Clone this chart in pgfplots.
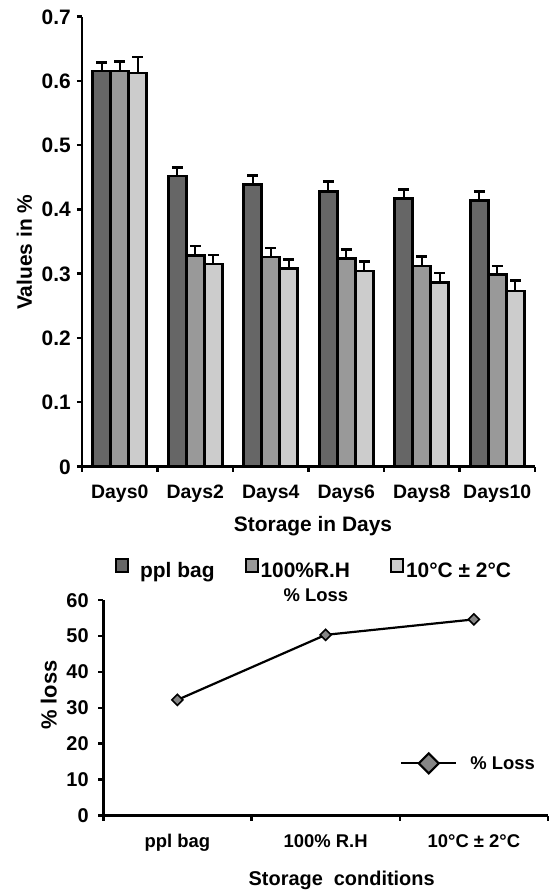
\documentclass[border=0pt]{standalone}
\usepackage{fontspec}
\setmainfont{Liberation Sans}
\usepackage{pgfplots}
\pgfplotsset{compat=1.18}
\usepackage{pgfplotstable}

\definecolor{cdark}{HTML}{666666}
\definecolor{cmid}{HTML}{999999}
\definecolor{clight}{HTML}{CCCCCC}
\definecolor{cdiam}{HTML}{858585}

\pgfplotstableread{
x a ea b eb c ec
0 0.615 0.013 0.615 0.015 0.612 0.025
1 0.452 0.013 0.328 0.015 0.315 0.014
2 0.439 0.014 0.326 0.014 0.308 0.014
3 0.428 0.015 0.324 0.014 0.304 0.0145
4 0.417 0.014 0.312 0.015 0.286 0.015
5 0.414 0.014 0.299 0.013 0.273 0.016
}\bars

\pgfplotstableread{
x y
1 32.2
2 50.3
3 54.6
}\loss

\newcommand{\fs}[1]{\bfseries\fontsize{#1}{#1}\selectfont}

\begin{document}
\begin{tikzpicture}
\useasboundingbox (0,0) rectangle (550bp,-892bp);
\begin{axis}[
  at={(82bp,-466.5bp)}, anchor=south west,
  scale only axis, width=453bp, height=450bp,
  xmin=-0.5, xmax=5.5, ymin=0, ymax=0.7,
  enlargelimits=false,
  axis x line=bottom, axis y line=left,
  axis line style={-, line width=2.4bp, black},
  tick align=outside, major tick length=5bp,
  tick style={line width=2.4bp, black},
  xtick={-0.5,0.5,1.5,2.5,3.5,4.5,5.5},
  xticklabels={Days0,Days2,Days4,Days6,Days8,Days10,{}},
  xticklabel style={font=\fs{19.5}, anchor=base, yshift=-26.5bp, xshift=37.75bp},
  ytick={0,0.1,0.2,0.3,0.4,0.5,0.6,0.7},
  yticklabel style={font=\fs{21}, anchor=base east, inner sep=0pt, xshift=-6bp, yshift=-7.5bp},
  /pgf/number format/assume math mode=true,
  ybar=0pt, bar width=18bp,
  legend image code/.code={\draw[#1, line width=2bp] (0bp,-1.5bp) rectangle (12bp,12bp);},
  legend columns=3,
  legend style={at={(0.0728,-0.2268)}, anchor=west, draw=none, fill=none, inner sep=0pt,
    font=\fs{21}, nodes={inner sep=0pt},
    /tikz/every odd column/.style={column sep=2bp},
    /tikz/every even column/.style={column sep=30bp}},
  xlabel={Storage in Days},
  xlabel style={font=\fs{21}, at={(axis description cs:0.51,0)}, anchor=base, yshift=-64.5bp},
  ylabel={Values in \%},
  ylabel style={font=\fs{21}, at={(axis description cs:-0.1104,0.476)}, anchor=base},
]
\addplot[fill=cdark, draw=black, line width=2.6bp,
  error bars/.cd, y dir=plus, y explicit, error mark=-,
  error bar style={line width=2.2bp, black},
  error mark options={rotate=90, line width=2.8bp, mark size=5.3bp, black}]
  table[x=x, y=a, y error=ea] {\bars};
\addlegendentry{\hspace{9bp}ppl bag}
\addplot[fill=cmid, draw=black, line width=2.6bp,
  error bars/.cd, y dir=plus, y explicit, error mark=-,
  error bar style={line width=2.2bp, black},
  error mark options={rotate=90, line width=2.8bp, mark size=5.3bp, black}]
  table[x=x, y=b, y error=eb] {\bars};
\addlegendentry{100\%R.H\rule{10bp}{0pt}}
\addplot[fill=clight, draw=black, line width=2.6bp,
  error bars/.cd, y dir=plus, y explicit, error mark=-,
  error bar style={line width=2.2bp, black},
  error mark options={rotate=90, line width=2.8bp, mark size=5.3bp, black}]
  table[x=x, y=c, y error=ec] {\bars};
\addlegendentry{10°C ± 2°C}
\end{axis}

\begin{axis}[
  at={(103.3bp,-815.5bp)}, anchor=south west,
  scale only axis, width=444.7bp, height=215.5bp,
  xmin=0.5, xmax=3.5, ymin=0, ymax=60,
  enlargelimits=false,
  axis x line=bottom, axis y line=left,
  axis line style={-, line width=2.4bp, black},
  tick align=outside, major tick length=5bp,
  tick style={line width=2.4bp, black},
  xtick={0.5,1.5,2.5,3.5},
  xticklabels={ppl bag,100\% R.H,10°C ± 2°C,{}},
  xticklabel style={font=\fs{18.5}, anchor=base, yshift=-27bp, xshift=74.1bp},
  ytick={0,10,20,30,40,50,60},
  yticklabel style={font=\fs{20}, anchor=base east, inner sep=0pt, xshift=-9.5bp, yshift=-7bp},
  /pgf/number format/assume math mode=true,
  title={\% Loss},
  title style={font=\fs{18.5}, at={(axis description cs:0.478,1)}, anchor=base, yshift=-7.5bp},
  xlabel={Storage\ \ conditions},
  xlabel style={font=\fs{20}, at={(axis description cs:0.536,0)}, anchor=base, yshift=-69.5bp},
  ylabel={\% loss},
  ylabel style={font=\fs{22}, at={(axis description cs:-0.105,0.559)}, anchor=base},
  legend style={at={(0.667,0.242)}, anchor=west, draw=none, fill=none, inner sep=0pt,
    font=\fs{18.5}, nodes={inner sep=0pt},
    /tikz/every odd column/.style={column sep=13bp}},
  legend image code/.code={
    \draw[black, line width=2.2bp] (0bp,0bp) -- (55bp,0bp);
    \draw[black, fill=cdiam, line width=2.2bp] (27.5bp,10bp) -- (37.5bp,0bp) -- (27.5bp,-10bp) -- (17.5bp,0bp) -- cycle;},
]
\addplot[black, line width=2.2bp, mark=square*, mark size=3.9bp,
  mark options={rotate=45, fill=cdiam, line width=1.6bp}]
  table[x=x, y=y] {\loss};
\addlegendentry{\% Loss}
\end{axis}
\end{tikzpicture}
\end{document}
